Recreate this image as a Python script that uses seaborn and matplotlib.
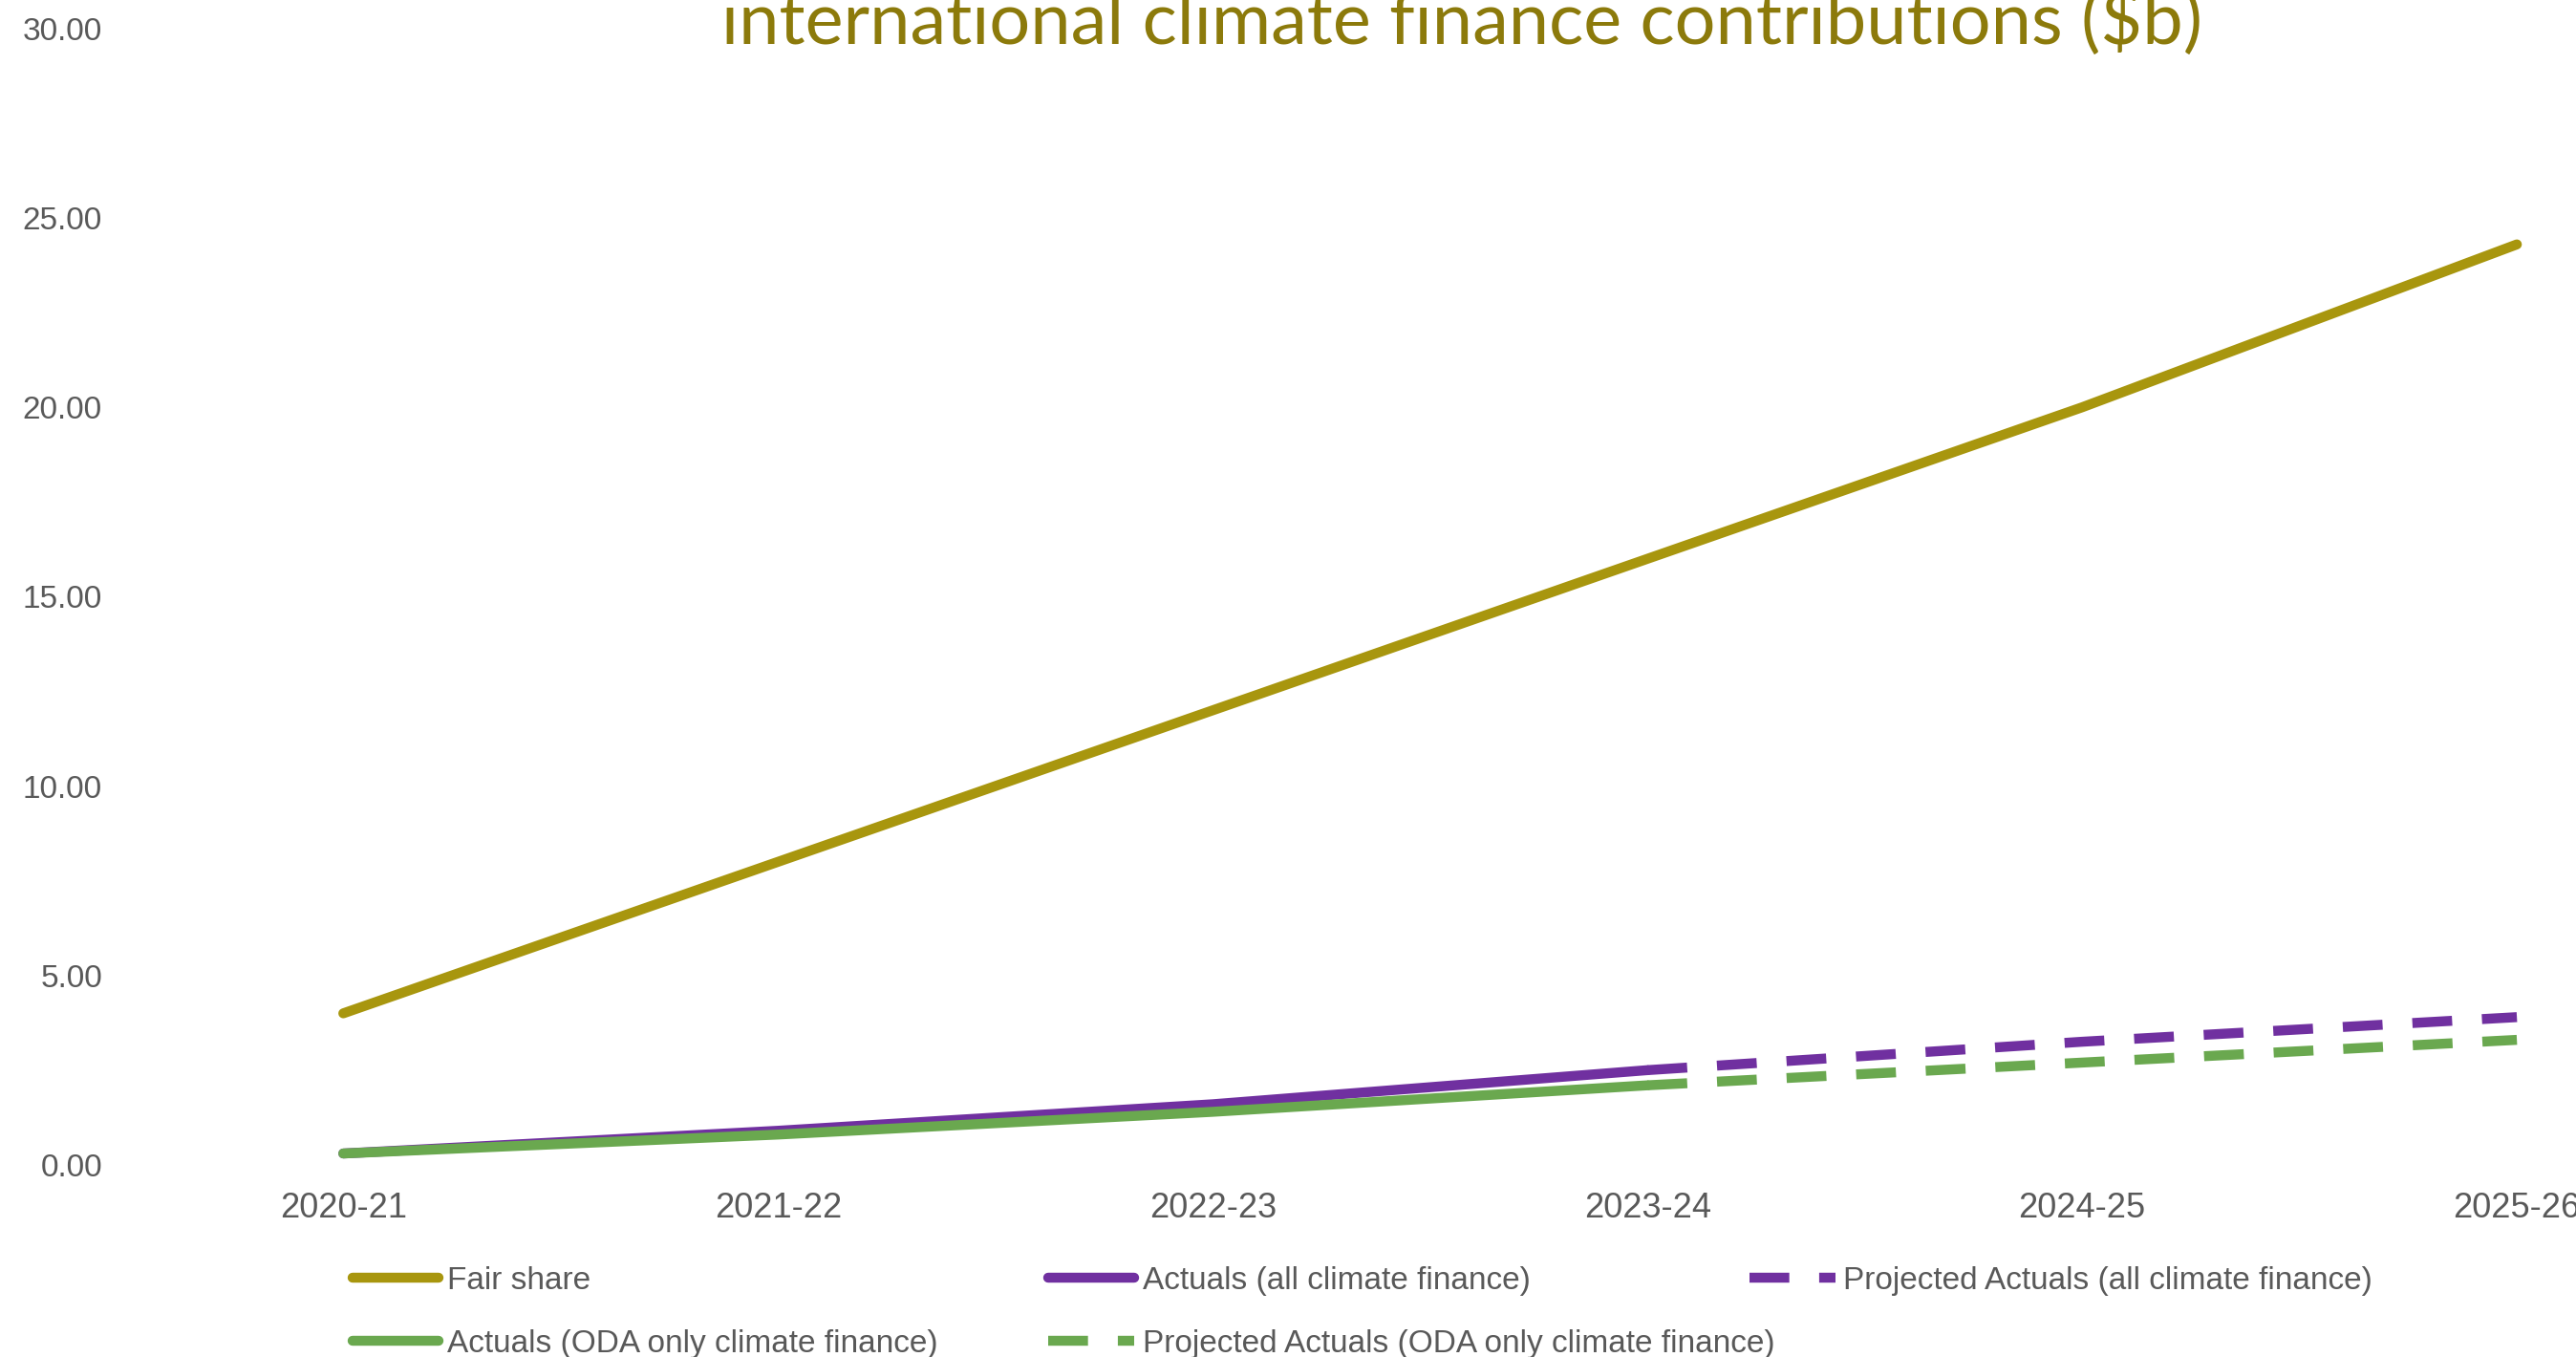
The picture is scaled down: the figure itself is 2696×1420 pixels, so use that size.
import numpy as np
import pandas as pd
import matplotlib
matplotlib.use('Agg')
import matplotlib.pyplot as plt
import seaborn as sns

years = ['2020-21', '2021-22', '2022-23', '2023-24', '2024-25', '2025-26']
fair_share = [4.0, 8.0, 12.0, 16.0, 20.0, 24.3]
actual_all = [0.3, 0.9, 1.6, 2.5, np.nan, np.nan]
projected_all = [np.nan, np.nan, np.nan, 2.5, 3.25, 3.9]
actual_oda = [0.3, 0.8, 1.4, 2.1, np.nan, np.nan]
projected_oda = [np.nan, np.nan, np.nan, 2.1, 2.7, 3.3]

gold = '#a8960e'
purple = '#7030a0'
green = '#6aa84f'
grey = '#595959'

sns.set_style('white')
plt.rcParams['font.family'] = ['Liberation Sans', 'DejaVu Sans']

df = pd.DataFrame({
    'idx': np.arange(len(years)),
    'fair': fair_share,
    'act_all': actual_all,
    'proj_all': projected_all,
    'act_oda': actual_oda,
    'proj_oda': projected_oda,
})

fig = plt.figure(figsize=(26.96, 14.2), dpi=100)
ax = fig.add_axes([0.051, 0.1416, 0.949, 0.8374])

lw = 7.5
sns.lineplot(data=df, x='idx', y='fair', ax=ax, color=gold, lw=lw,
             solid_capstyle='round', label='Fair share')
sns.lineplot(data=df, x='idx', y='act_all', ax=ax, color=purple, lw=lw,
             solid_capstyle='round', label='Actuals (all climate finance)')
sns.lineplot(data=df, x='idx', y='proj_all', ax=ax, color=purple, lw=lw,
             label='Projected Actuals (all climate finance)')
sns.lineplot(data=df, x='idx', y='act_oda', ax=ax, color=green, lw=lw,
             solid_capstyle='round', label='Actuals (ODA only climate finance)')
sns.lineplot(data=df, x='idx', y='proj_oda', ax=ax, color=green, lw=lw,
             label='Projected Actuals (ODA only climate finance)')

lines = ax.get_lines()
for ln in (lines[2], lines[4]):
    ln.set_dashes((4, 3))
    ln.set_dash_capstyle('butt')

handles, labels = ax.get_legend_handles_labels()
ax.get_legend().remove()

ax.set_xlim(-0.4875, 5.136)
ax.set_ylim(0, 30)
ax.set_xticks(range(len(years)))
ax.set_xticklabels(years)
ax.set_yticks(np.arange(0, 31, 5))
ax.set_yticklabels([f'{v:.2f}' for v in np.arange(0, 31, 5)])
ax.tick_params(axis='x', length=0, pad=20, labelsize=26, labelcolor=grey)
ax.tick_params(axis='y', length=0, pad=22, labelsize=24, labelcolor=grey)
ax.set_xlabel('')
ax.set_ylabel('')
sns.despine(ax=ax, left=True, bottom=True)
ax.grid(False)

# legend laid out as a grid of three columns, row by row
cols = [
    ([handles[0], handles[3]], [labels[0], labels[3]], 0.137),
    ([handles[1], handles[4]], [labels[1], labels[4]], 0.407),
    ([handles[2]], [labels[2]], 0.679),
]
for h, l, xpos in cols:
    fig.legend(h, l, loc='upper left', bbox_to_anchor=(xpos, 0.067),
               frameon=False, fontsize=24, labelcolor=grey, handlelength=2.7,
               handletextpad=0.25, borderpad=0, borderaxespad=0, labelspacing=1.05)

fig.text(0.5676, 0.968, 'international climate finance contributions ($b)',
         ha='center', va='baseline', fontsize=54.5, color='#8c7a0b',
         family=['Lato', 'DejaVu Sans'])

fig.savefig('out.png', dpi=100)
